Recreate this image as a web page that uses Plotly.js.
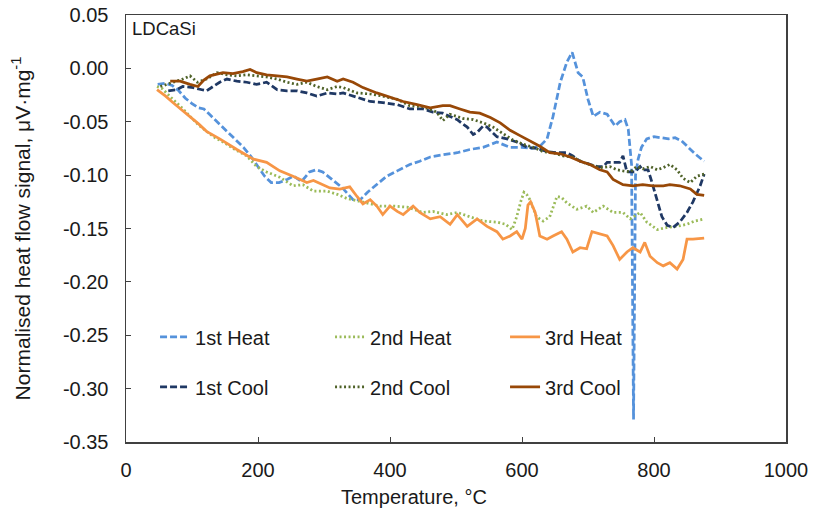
<!DOCTYPE html>
<html>
<head>
<meta charset="utf-8">
<script src="https://cdn.plot.ly/plotly-3.0.1.min.js"></script>
<style>
  html, body { margin: 0; padding: 0; background: #ffffff; }
  #chart { width: 813px; height: 514px; }
</style>
</head>
<body>
<div id="chart"></div>
<script>
// Heating runs: temperature (°C) and normalised heat flow (µV·mg⁻¹)
const heat1T = [48, 60, 70, 80, 90, 100, 110, 118, 128, 140, 152, 165, 178, 190, 200, 210, 220, 232, 244, 254, 266, 278, 288, 298, 312, 328, 344, 355, 366, 380, 395, 411, 430, 445, 461, 480, 502, 521, 541, 562, 582, 600, 615, 627, 638, 647, 658, 668, 676, 685, 692, 700, 708, 718, 729, 741, 748, 756, 761, 766, 769, 772, 776, 781, 789, 800, 812, 822, 832, 842, 852, 862, 876];
const heat1S = [-0.015, -0.014, -0.016, -0.021, -0.028, -0.033, -0.037, -0.038, -0.044, -0.051, -0.058, -0.066, -0.074, -0.083, -0.092, -0.101, -0.107, -0.107, -0.104, -0.101, -0.106, -0.097, -0.095, -0.097, -0.104, -0.112, -0.123, -0.123, -0.116, -0.109, -0.101, -0.096, -0.090, -0.087, -0.083, -0.081, -0.079, -0.076, -0.074, -0.069, -0.074, -0.074, -0.075, -0.073, -0.066, -0.045, -0.013, 0.006, 0.015, -0.004, -0.008, -0.029, -0.045, -0.041, -0.043, -0.054, -0.050, -0.048, -0.057, -0.090, -0.329, -0.100, -0.085, -0.074, -0.066, -0.064, -0.065, -0.066, -0.065, -0.068, -0.074, -0.080, -0.087];

const heat2T = [47, 55, 71, 85, 97, 110, 122, 135, 150, 165, 183, 198, 213, 233, 253, 268, 284, 305, 320, 335, 350, 365, 385, 405, 426, 450, 465, 486, 502, 521, 541, 562, 575, 585, 592, 598, 603, 607, 612, 622, 632, 642, 653, 660, 668, 683, 698, 708, 723, 738, 753, 764, 779, 789, 805, 820, 835, 850, 862, 876];
const heat2S = [-0.017, -0.019, -0.029, -0.037, -0.045, -0.053, -0.059, -0.065, -0.070, -0.076, -0.082, -0.092, -0.097, -0.102, -0.110, -0.109, -0.115, -0.115, -0.118, -0.122, -0.124, -0.126, -0.129, -0.129, -0.130, -0.135, -0.134, -0.137, -0.135, -0.139, -0.143, -0.144, -0.146, -0.151, -0.139, -0.125, -0.116, -0.118, -0.123, -0.139, -0.143, -0.139, -0.120, -0.121, -0.126, -0.132, -0.129, -0.135, -0.129, -0.135, -0.135, -0.141, -0.135, -0.144, -0.151, -0.149, -0.148, -0.146, -0.143, -0.141];

const heat3T = [47, 60, 71, 85, 97, 110, 122, 142, 168, 193, 213, 233, 253, 274, 284, 298, 309, 324, 339, 350, 359, 370, 380, 389, 400, 411, 420, 435, 445, 461, 476, 491, 502, 517, 532, 547, 562, 571, 582, 592, 600, 605, 609, 613, 620, 627, 638, 647, 660, 668, 677, 688, 698, 706, 718, 729, 738, 748, 759, 768, 779, 786, 794, 805, 814, 824, 835, 844, 850, 859, 876];
const heat3S = [-0.020, -0.026, -0.032, -0.039, -0.045, -0.052, -0.059, -0.066, -0.076, -0.085, -0.088, -0.096, -0.101, -0.107, -0.105, -0.109, -0.112, -0.113, -0.111, -0.120, -0.127, -0.123, -0.129, -0.137, -0.129, -0.134, -0.137, -0.129, -0.135, -0.141, -0.139, -0.146, -0.137, -0.148, -0.141, -0.148, -0.153, -0.160, -0.157, -0.153, -0.160, -0.150, -0.128, -0.125, -0.135, -0.157, -0.160, -0.157, -0.153, -0.160, -0.172, -0.168, -0.169, -0.153, -0.155, -0.157, -0.166, -0.179, -0.172, -0.168, -0.172, -0.163, -0.176, -0.182, -0.185, -0.182, -0.188, -0.179, -0.160, -0.160, -0.159];

// Cooling runs
const cool1T = [64, 77, 86, 102, 115, 122, 132, 142, 153, 168, 183, 198, 213, 229, 244, 259, 274, 289, 305, 320, 329, 350, 370, 389, 411, 430, 450, 465, 480, 491, 502, 510, 517, 526, 532, 541, 547, 555, 562, 577, 592, 608, 623, 638, 653, 668, 677, 688, 703, 714, 723, 729, 738, 748, 753, 759, 771, 779, 783, 791, 797, 805, 812, 820, 829, 839, 850, 859, 870, 876];
const cool1S = [-0.021, -0.020, -0.017, -0.018, -0.020, -0.021, -0.017, -0.013, -0.010, -0.012, -0.013, -0.015, -0.013, -0.020, -0.021, -0.021, -0.023, -0.026, -0.023, -0.024, -0.023, -0.027, -0.031, -0.032, -0.034, -0.038, -0.038, -0.041, -0.042, -0.045, -0.048, -0.052, -0.055, -0.062, -0.060, -0.054, -0.055, -0.060, -0.064, -0.066, -0.069, -0.074, -0.075, -0.078, -0.079, -0.079, -0.082, -0.087, -0.090, -0.092, -0.092, -0.088, -0.088, -0.088, -0.082, -0.097, -0.097, -0.092, -0.095, -0.095, -0.107, -0.125, -0.139, -0.147, -0.149, -0.144, -0.135, -0.125, -0.110, -0.099];

const cool2T = [52, 62, 71, 86, 97, 108, 122, 138, 153, 168, 183, 198, 213, 229, 244, 259, 274, 289, 305, 320, 329, 350, 370, 389, 411, 430, 450, 471, 480, 491, 511, 526, 541, 556, 571, 586, 602, 617, 632, 647, 662, 677, 692, 708, 718, 733, 744, 753, 764, 774, 783, 794, 805, 814, 824, 835, 844, 855, 865, 876];
const cool2S = [-0.017, -0.015, -0.013, -0.010, -0.007, -0.013, -0.010, -0.004, -0.006, -0.007, -0.006, -0.007, -0.008, -0.010, -0.013, -0.015, -0.013, -0.017, -0.020, -0.017, -0.018, -0.023, -0.024, -0.026, -0.029, -0.035, -0.036, -0.041, -0.049, -0.043, -0.047, -0.048, -0.051, -0.055, -0.061, -0.067, -0.071, -0.074, -0.078, -0.079, -0.082, -0.083, -0.088, -0.091, -0.093, -0.092, -0.095, -0.096, -0.097, -0.092, -0.094, -0.092, -0.095, -0.093, -0.090, -0.095, -0.103, -0.107, -0.101, -0.099];

const cool3T = [67, 82, 97, 109, 118, 127, 147, 162, 177, 188, 198, 213, 229, 244, 259, 274, 289, 305, 320, 329, 344, 359, 380, 400, 420, 441, 461, 480, 491, 506, 521, 536, 552, 567, 582, 597, 612, 627, 642, 658, 673, 688, 703, 718, 729, 738, 753, 768, 783, 798, 814, 824, 839, 855, 865, 876];
const cool3S = [-0.012, -0.012, -0.015, -0.017, -0.011, -0.007, -0.004, -0.005, -0.003, -0.001, -0.004, -0.006, -0.007, -0.008, -0.010, -0.012, -0.010, -0.008, -0.012, -0.010, -0.013, -0.018, -0.023, -0.027, -0.031, -0.034, -0.037, -0.035, -0.035, -0.038, -0.041, -0.042, -0.046, -0.051, -0.058, -0.063, -0.068, -0.073, -0.079, -0.080, -0.083, -0.087, -0.090, -0.095, -0.097, -0.104, -0.109, -0.110, -0.109, -0.110, -0.110, -0.109, -0.110, -0.113, -0.118, -0.119];

const seriesNames = ["1st Heat", "2nd Heat", "3rd Heat", "1st Cool", "2nd Cool", "3rd Cool"];

// Axis ticks
const xTickVals = [0, 200, 400, 600, 800, 1000];
const xTickText = ["0", "200", "400", "600", "800", "1000"];
const yTickVals = [0.05, 0.00, -0.05, -0.10, -0.15, -0.20, -0.25, -0.30, -0.35];
const yTickText = ["0.05", "0.00", "-0.05", "-0.10", "-0.15", "-0.20", "-0.25", "-0.30", "-0.35"];

const FONT = "Liberation Sans, Arial, sans-serif";
const TXT = "#1a1a1a";
const FS = 20;
const LW = 2.75;

function run(x, y, name, color, dash, legendId) {
  return {
    type: "scatter", mode: "lines", x: x, y: y, name: name,
    line: { color: color, width: LW, dash: dash },
    legend: legendId, hoverinfo: "skip"
  };
}

const traces = [
  run(heat1T, heat1S, seriesNames[0], "#5592DB", "7px,3px", "legend"),
  run(heat2T, heat2S, seriesNames[1], "#9BBB59", "2px,2.5px", "legend"),
  run(heat3T, heat3S, seriesNames[2], "#F79646", "solid", "legend"),
  run(cool1T, cool1S, seriesNames[3], "#1F3864", "7px,3px", "legend2"),
  run(cool2T, cool2S, seriesNames[4], "#4F6228", "2px,2.5px", "legend2"),
  run(cool3T, cool3S, seriesNames[5], "#984807", "solid", "legend2")
];

const legendStyle = {
  orientation: "h",
  xanchor: "left", yanchor: "middle",
  x: 0.044,
  bgcolor: "rgba(0,0,0,0)",
  borderwidth: 0,
  font: { family: FONT, size: FS, color: TXT },
  entrywidth: 130, entrywidthmode: "pixels",
  itemwidth: 30, tracegroupgap: 0
};

const layout = {
  width: 813, height: 514,
  margin: { l: 126, r: 27, t: 15, b: 72 },
  paper_bgcolor: "#ffffff", plot_bgcolor: "#ffffff",
  font: { family: FONT, size: FS, color: TXT },
  showlegend: true,
  legend: Object.assign({}, legendStyle, { y: 0.246 }),
  legend2: Object.assign({}, legendStyle, { y: 0.129 }),
  xaxis: {
    range: [0, 1000],
    tickvals: xTickVals, ticktext: xTickText,
    ticks: "inside", ticklen: 5, tickwidth: 1, tickcolor: "#404040",
    showline: true, linecolor: "#404040", linewidth: 1.5, mirror: true,
    showgrid: false, zeroline: false,
    ticklabelstandoff: 9,
    tickfont: { family: FONT, size: FS, color: TXT }
  },
  yaxis: {
    range: [-0.35, 0.05],
    tickvals: yTickVals, ticktext: yTickText,
    ticks: "inside", ticklen: 5, tickwidth: 1, tickcolor: "#404040",
    showline: true, linecolor: "#404040", linewidth: 1.5, mirror: true,
    showgrid: false, zeroline: false,
    ticklabelstandoff: 12,
    tickfont: { family: FONT, size: FS, color: TXT },
    title: {
      text: "Normalised heat flow signal, μV·mg<sup>-1</sup>",
      font: { family: FONT, size: 21, color: TXT },
      standoff: 26
    }
  },
  annotations: [
    {
      text: "LDCaSi", xref: "paper", yref: "paper", x: 0.006, y: 0.997,
      xanchor: "left", yanchor: "top", showarrow: false,
      font: { family: FONT, size: 18.5, color: TXT }
    },
    {
      text: "Temperature, °C", xref: "paper", yref: "paper", x: (414 - 126) / 660, y: -0.128,
      xanchor: "center", yanchor: "middle", showarrow: false,
      font: { family: FONT, size: FS, color: TXT }
    }
  ]
};

Plotly.newPlot("chart", traces, layout, { displayModeBar: false, staticPlot: true });
</script>
</body>
</html>
